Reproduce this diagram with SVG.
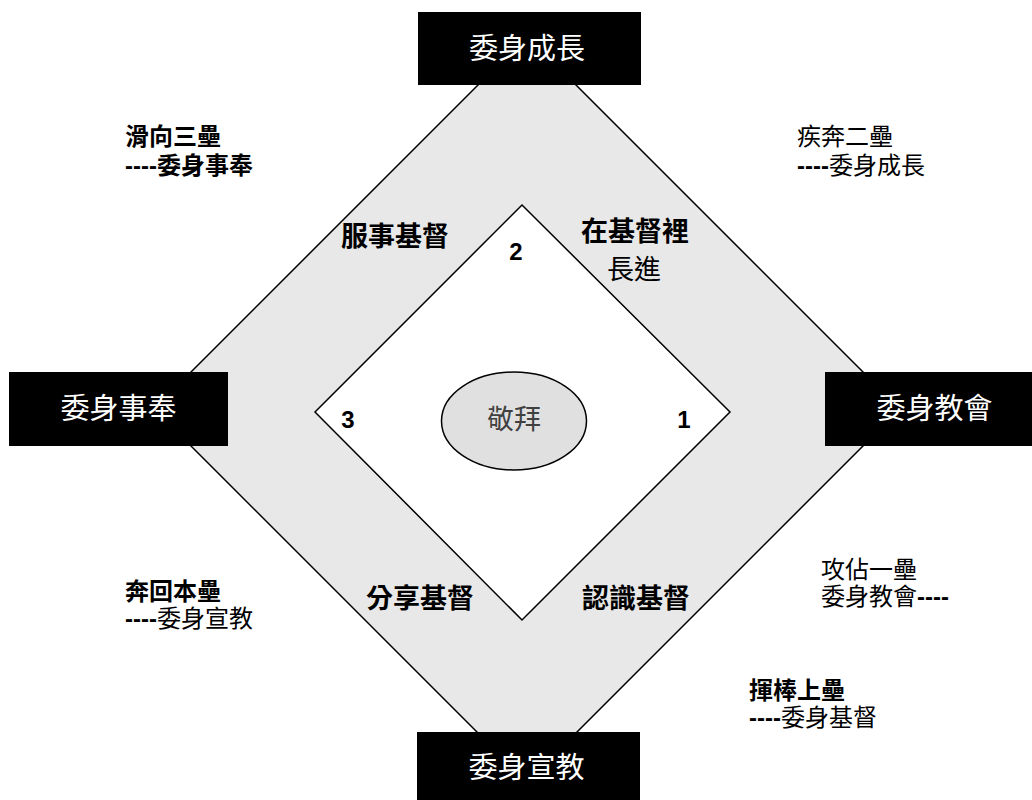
<svg xmlns="http://www.w3.org/2000/svg" width="1032" height="800" viewBox="0 0 1032 800">
<style>
.t{font-family:"Liberation Sans","Noto Sans CJK TC",sans-serif;dominant-baseline:central;fill:#000}
.box{fill:#000}
.title{font-size:29px;fill:#fff;text-anchor:middle}
.out{font-size:24px}
.in{font-size:27px}
.b{font-weight:bold}
.num{font-size:24px;font-weight:bold;text-anchor:middle}
</style>
<rect width="1032" height="800" fill="#fff"/>
<g id="field">
<polygon points="527,36 900,409 527,782 154,409" fill="#e8e8e8" stroke="#000" stroke-width="1.5"/>
<polygon points="522,205 730,412 522,620 315,412" fill="#fff" stroke="#000" stroke-width="1.5"/>
</g>
<g id="worship">
<ellipse cx="514" cy="421" rx="72.5" ry="49" fill="#e0e0e0" stroke="#000" stroke-width="1.5"/>
<text class="t in" x="514" y="420" text-anchor="middle" fill="#404040" style="fill:#404040">敬拜</text>
</g>
<g id="node-top">
<rect class="box" x="418" y="12" width="223" height="73"/>
<text class="t title" x="527" y="49">委身成長</text>
</g>
<g id="node-left">
<rect class="box" x="9" y="372" width="219" height="74"/>
<text class="t title" x="118.5" y="409">委身事奉</text>
</g>
<g id="node-right">
<rect class="box" x="825" y="372" width="207" height="74"/>
<text class="t title" x="934.5" y="409">委身教會</text>
</g>
<g id="node-bottom">
<rect class="box" x="417" y="732" width="223" height="73"/>
<text class="t title" x="526.5" y="768">委身宣教</text>
</g>
<g id="bases">
<text class="t num" x="516" y="251">2</text>
<text class="t num" x="348" y="419">3</text>
<text class="t num" x="684" y="419">1</text>
</g>
<g id="inner-labels">
<text class="t in b" x="341" y="237">服事基督</text>
<text class="t in b" x="581" y="232">在基督裡</text>
<text class="t in" x="607" y="270">長進</text>
<text class="t in b" x="366" y="599">分享基督</text>
<text class="t in b" x="582" y="599">認識基督</text>
</g>
<g id="outer-labels">
<text class="t out b" x="125" y="136">滑向三壘</text>
<text class="t out b" x="125" y="165">----委身事奉</text>
<text class="t out" x="797" y="136">疾奔二壘</text>
<text class="t out" x="797" y="165"><tspan font-weight="bold">----</tspan>委身成長</text>
<text class="t out" x="821" y="569">攻佔一壘</text>
<text class="t out" x="821" y="596">委身教會<tspan font-weight="bold">----</tspan></text>
<text class="t out b" x="749" y="690">揮棒上壘</text>
<text class="t out" x="749" y="717"><tspan font-weight="bold">----</tspan>委身基督</text>
<text class="t out b" x="125" y="591">奔回本壘</text>
<text class="t out" x="125" y="618"><tspan font-weight="bold">----</tspan>委身宣教</text>
</g>
</svg>
